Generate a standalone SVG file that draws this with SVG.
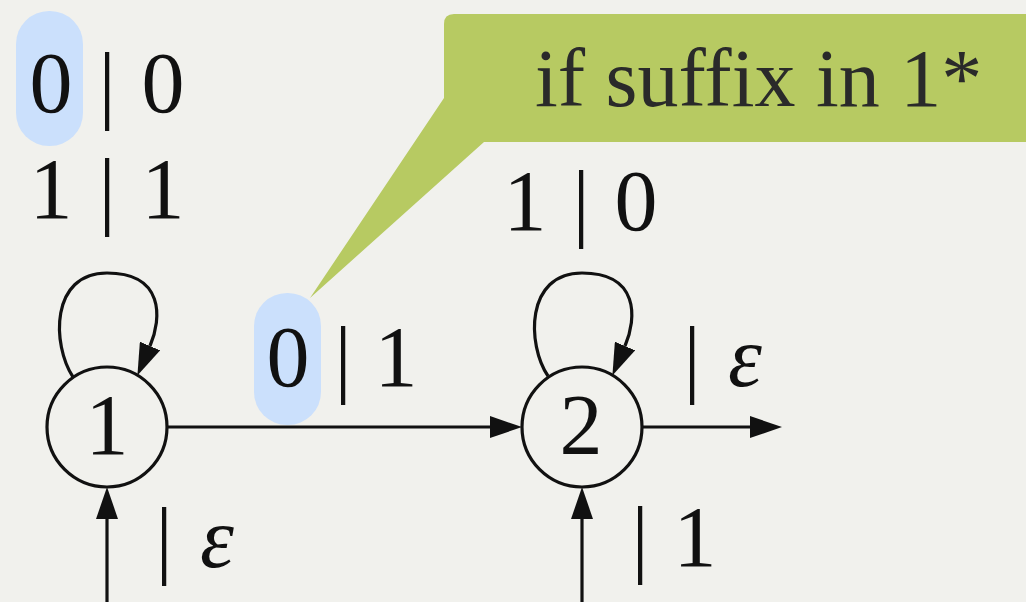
<svg xmlns="http://www.w3.org/2000/svg" width="1026" height="602" viewBox="0 0 1026 602">
<style>
.lbl{font-family:"Liberation Serif","Times New Roman",serif;font-size:86px;fill:#111;text-anchor:middle}
.call{font-family:"Liberation Serif","Times New Roman",serif;font-size:82px;fill:#2a2a2a}
.eps{font-style:italic}
.edge{fill:none;stroke:#111;stroke-width:3.2}
.node{fill:none;stroke:#111;stroke-width:3.2}
.hl{fill:#cbe0fc}
</style>
<defs>
<marker id="arr" viewBox="0 0 32 22" refX="0" refY="11" markerWidth="32" markerHeight="22" markerUnits="userSpaceOnUse" orient="auto">
<path d="M0,0 L32,11 L0,22 z" fill="#111"/>
</marker>
</defs>
<rect width="1026" height="602" fill="#f1f1ed"/>
<g id="callout">
<path d="M454,14 L1026,14 L1026,142 L484,142 L310,298 L444,98 L444,24 Q444,14 454,14 z" fill="#b7ca62"/>
<text class="call" x="535" y="106">if suffix in 1*</text>
</g>
<g id="highlights">
<rect class="hl" x="16" y="11" width="67" height="135" rx="33"/>
<rect class="hl" x="254" y="293" width="67" height="132" rx="33"/>
</g>
<g id="connectors">
<path class="edge" d="M73,377 C52,345 50,273 107,273 C164,273 162,318 150,346" marker-end="url(#arr)"/>
<path class="edge" d="M548,376 C527,345 525,273 582,273 C639,273 637,318 625,346" marker-end="url(#arr)"/>
<line class="edge" x1="166" y1="427" x2="490" y2="427" marker-end="url(#arr)"/>
<line class="edge" x1="642" y1="427" x2="750" y2="427" marker-end="url(#arr)"/>
<line class="edge" x1="107" y1="602" x2="107" y2="519" marker-end="url(#arr)"/>
<line class="edge" x1="582" y1="602" x2="582" y2="519" marker-end="url(#arr)"/>
</g>
<g id="node1">
<circle class="node" cx="107" cy="427" r="60"/>
<text class="lbl" x="107" y="454">1</text>
</g>
<g id="node2">
<circle class="node" cx="582" cy="427" r="60"/>
<text class="lbl" x="581" y="454">2</text>
</g>
<g id="labels">
<text class="lbl" y="112"><tspan x="51">0</tspan><tspan x="107">|</tspan><tspan x="163">0</tspan></text>
<text class="lbl" y="218"><tspan x="51">1</tspan><tspan x="107">|</tspan><tspan x="163">1</tspan></text>
<text class="lbl" y="386"><tspan x="288">0</tspan><tspan x="343">|</tspan><tspan x="396">1</tspan></text>
<text class="lbl" y="230"><tspan x="525">1</tspan><tspan x="581">|</tspan><tspan x="636">0</tspan></text>
<text class="lbl" y="386"><tspan x="692">|</tspan><tspan x="745" class="eps">ε</tspan></text>
<text class="lbl" y="567"><tspan x="164">|</tspan><tspan x="217" class="eps">ε</tspan></text>
<text class="lbl" y="566"><tspan x="640">|</tspan><tspan x="695">1</tspan></text>
</g>
</svg>
